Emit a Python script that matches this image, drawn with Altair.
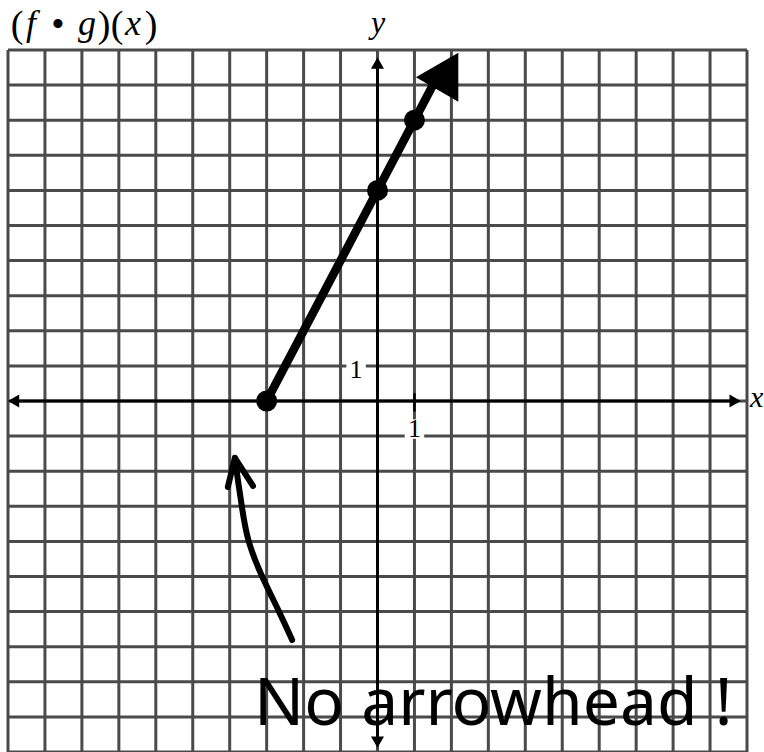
import altair as alt
import pandas as pd

# Graph of (f o g)(x): a ray starting at (-3, 0) with slope 2
ray_x = [-3, 1.75]
ray_y = [0, 9.5]
dot_x = [-3, 0, 1]
dot_y = [0, 6, 8]
head_x = [1.9]
head_y = [9.4]

# Grid lines, one per unit
grid_vals = list(range(-10, 11))

# Axis arrowheads
axis_arrow_x = [-9.85, 9.68, 0, 0]
axis_arrow_y = [0, 0, 9.63, -9.72]
axis_arrow_shape = ["triangle-left", "triangle-right", "triangle-up", "triangle-down"]

# Unit labels on the axes
unit_label_x = [1, -0.58]
unit_label_y = [-0.8, 0.88]
unit_label_text = ["1", "1"]

# Hand-drawn annotation arrow (shaft and hooked tip)
note_shaft_x = [-2.31, -2.64, -3.18, -3.53, -3.67, -3.78, -3.86]
note_shaft_y = [-6.81, -6.04, -4.90, -3.96, -3.02, -2.25, -1.62]
note_tip_x = [-4.05, -3.86, -3.37]
note_tip_y = [-2.45, -1.62, -2.42]

# Title pieces: glyph, italic flag, pixel centre
title_glyphs = ["(", "f", "•", "g", ")", "(", "x", ")"]
title_italic = ["normal", "italic", "normal", "italic", "normal", "normal", "italic", "normal"]
title_px = [17, 31, 58, 87, 104, 117, 133, 151]

W, H = 739, 702
xs = alt.Scale(domain=[-10, 10], nice=False, zero=False)
ys = alt.Scale(domain=[-10, 10], nice=False, zero=False)
X = lambda f: alt.X(f, scale=xs, axis=None)
Y = lambda f: alt.Y(f, scale=ys, axis=None)

grid_color = "#4a4a4a"
vgrid = alt.Chart(pd.DataFrame({"v": grid_vals, "lo": -10, "hi": 10})).mark_rule(
    color=grid_color, strokeWidth=3
).encode(x=X("v:Q"), y=Y("lo:Q"), y2="hi:Q")
hgrid = alt.Chart(pd.DataFrame({"v": grid_vals, "lo": -10, "hi": 10})).mark_rule(
    color=grid_color, strokeWidth=3
).encode(y=Y("v:Q"), x=X("lo:Q"), x2="hi:Q")

axes_df = pd.DataFrame({"x": [-9.8, 0], "x2": [9.7, 0], "y": [0, -9.7], "y2": [0, 9.6]})
axes = alt.Chart(axes_df).mark_rule(color="black", strokeWidth=3).encode(
    x=X("x:Q"), x2="x2:Q", y=Y("y:Q"), y2="y2:Q"
)

arrows = alt.Chart(pd.DataFrame({"x": axis_arrow_x, "y": axis_arrow_y, "s": axis_arrow_shape})).mark_point(
    filled=True, color="black", size=170, opacity=1
).encode(x=X("x:Q"), y=Y("y:Q"), shape=alt.Shape("s:N", scale=None))

tick = alt.Chart(pd.DataFrame({"x": [1], "y": [-0.3], "y2": [0.22]})).mark_rule(
    color="black", strokeWidth=2.5
).encode(x=X("x:Q"), y=Y("y:Q"), y2="y2:Q")

lab_df = pd.DataFrame({"x": unit_label_x, "y": unit_label_y, "t": unit_label_text})
lab_bg = alt.Chart(lab_df).mark_point(shape="square", filled=True, color="white", size=380, opacity=1).encode(
    x=X("x:Q"), y=Y("y:Q")
)
labels = alt.Chart(lab_df).mark_text(font="Liberation Serif", fontSize=26, color="black").encode(
    x=X("x:Q"), y=Y("y:Q"), text="t:N"
)

ray = alt.Chart(pd.DataFrame({"x": ray_x, "y": ray_y})).mark_line(
    color="black", strokeWidth=8.5, strokeCap="round"
).encode(x=X("x:Q"), y=Y("y:Q"))

dots = alt.Chart(pd.DataFrame({"x": dot_x, "y": dot_y})).mark_circle(
    color="black", size=440, opacity=1
).encode(x=X("x:Q"), y=Y("y:Q"))

head = alt.Chart(pd.DataFrame({"x": head_x, "y": head_y})).mark_point(
    shape="triangle-up", filled=True, color="black", size=2400, angle=30, opacity=1
).encode(x=X("x:Q"), y=Y("y:Q"))

shaft_df = pd.DataFrame({"x": note_shaft_x, "y": note_shaft_y, "o": range(len(note_shaft_x))})
shaft = alt.Chart(shaft_df).mark_line(
    color="black", strokeWidth=6, strokeCap="round", interpolate="basis"
).encode(x=X("x:Q"), y=Y("y:Q"), order="o:Q")

tip_df = pd.DataFrame({"x": note_tip_x, "y": note_tip_y, "o": range(len(note_tip_x))})
tip = alt.Chart(tip_df).mark_line(
    color="black", strokeWidth=6, strokeCap="round", strokeJoin="round"
).encode(x=X("x:Q"), y=Y("y:Q"), order="o:Q")

# Title drawn glyph by glyph (pixel positions relative to the plot origin)
title_df = pd.DataFrame({"t": title_glyphs, "st": title_italic, "px": [p - 8 for p in title_px]})
title_up = alt.Chart(title_df[title_df.st == "normal"]).mark_text(
    font="Liberation Serif", fontSize=38, align="center", baseline="middle", color="black"
).encode(x=alt.X("px:Q", scale=None, axis=None), y=alt.value(-24), text="t:N")
title_it = alt.Chart(title_df[title_df.st == "italic"]).mark_text(
    font="Liberation Serif", fontStyle="italic", fontSize=36, align="center", baseline="middle", color="black"
).encode(x=alt.X("px:Q", scale=None, axis=None), y=alt.value(-26), text="t:N")

one = pd.DataFrame({"a": [0]})
y_name = alt.Chart(one).mark_text(
    text="y", font="Liberation Serif", fontStyle="italic", fontSize=32,
    align="center", baseline="middle", color="black"
).encode(x=alt.value(370), y=alt.value(-27))

x_name = alt.Chart(one).mark_text(
    text="x", font="Liberation Serif", fontStyle="italic", fontSize=30,
    align="left", baseline="middle", color="black"
).encode(x=alt.value(742), y=alt.value(348))

note = alt.Chart(one).mark_text(
    text="No arrowhead !", font="Noto Sans", fontSize=66,
    align="left", baseline="alphabetic", color="black"
).encode(x=alt.value(246), y=alt.value(675))

chart = alt.layer(
    vgrid, hgrid, axes, arrows, tick, lab_bg, labels, ray, dots, head, shaft, tip,
    title_up, title_it, y_name, x_name, note
).properties(
    width=W, height=H, autosize="none",
    padding={"left": 8, "top": 50, "right": 17, "bottom": 0},
).configure_view(stroke=None).configure(background="white")

chart.save("out.html", embed_options={"renderer": "svg", "actions": False})
